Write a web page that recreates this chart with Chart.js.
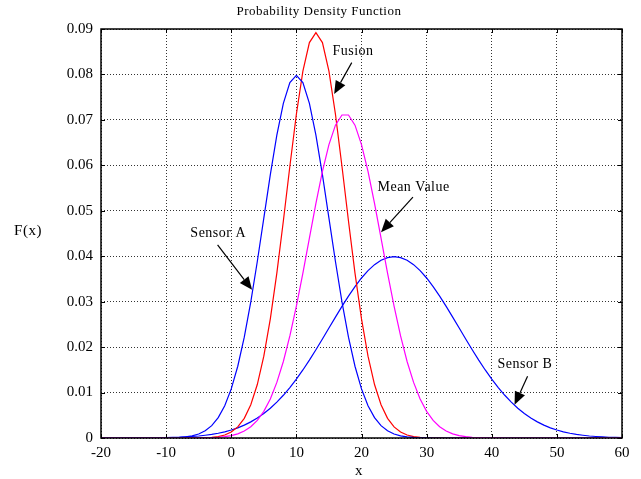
<!DOCTYPE html>
<html>
<head>
<meta charset="utf-8">
<script src="https://cdn.jsdelivr.net/npm/chart.js@4/dist/chart.umd.min.js"></script>
<style>
html,body{margin:0;padding:0;background:#fff;}
#wrap{width:641px;height:479px;}
</style>
</head>
<body>
<div id="wrap"><canvas id="c" width="641" height="479"></canvas></div>
<script>
const xValues = [
-20,-19,-18,-17,-16,-15,-14,-13,-12,-11,
-10,-9,-8,-7,-6,-5,-4,-3,-2,-1,
0,1,2,3,4,5,6,7,8,9,
10,11,12,13,14,15,16,17,18,19,
20,21,22,23,24,25,26,27,28,29,
30,31,32,33,34,35,36,37,38,39,
40,41,42,43,44,45,46,47,48,49,
50,51,52,53,54,55,56,57,58,59,
60];

const sensorA = [
0,0,0,0,0,0,0,0,0,0,
0.00003,0.00006,0.00012,0.00025,0.00048,0.00089,0.00158,0.00272,0.00448,0.00709,
0.01080,0.01579,0.02218,0.02995,0.03884,0.04839,0.05794,0.06664,0.07365,0.07821,
0.07979,0.07821,0.07365,0.06664,0.05794,0.04839,0.03884,0.02995,0.02218,0.01579,
0.01080,0.00709,0.00448,0.00272,0.00158,0.00089,0.00048,0.00025,0.00012,0.00006,
0.00003,0,0,0,0,0,0,0,0,0,
0,0,0,0,0,0,0,0,0,0,
0,0,0,0,0,0,0,0,0,0,
0];

const sensorB = [
0,0,0,0,0.00001,0.00001,0.00002,0.00003,0.00004,0.00006,
0.00009,0.00012,0.00017,0.00024,0.00033,0.00044,0.00060,0.00079,0.00104,0.00136,
0.00175,0.00224,0.00283,0.00355,0.00440,0.00540,0.00656,0.00790,0.00940,0.01109,
0.01295,0.01497,0.01714,0.01942,0.02178,0.02420,0.02661,0.02897,0.03123,0.03332,
0.03521,0.03683,0.03814,0.03910,0.03970,0.03989,0.03970,0.03910,0.03814,0.03683,
0.03521,0.03332,0.03123,0.02897,0.02661,0.02420,0.02178,0.01942,0.01714,0.01497,
0.01295,0.01109,0.00940,0.00790,0.00656,0.00540,0.00440,0.00355,0.00283,0.00224,
0.00175,0.00136,0.00104,0.00079,0.00060,0.00044,0.00033,0.00024,0.00017,0.00012,
0.00009];

const fusion = [
0,0,0,0,0,0,0,0,0,0,
0,0,0,0,0.00001,0.00003,0.00007,0.00015,0.00032,0.00066,
0.00130,0.00244,0.00433,0.00732,0.01177,0.01801,0.02621,0.03627,0.04775,0.05980,
0.07124,0.08072,0.08701,0.08921,0.08701,0.08072,0.07124,0.05980,0.04775,0.03627,
0.02621,0.01801,0.01177,0.00732,0.00433,0.00244,0.00130,0.00066,0.00032,0.00015,
0.00007,0.00003,0.00001,0,0,0,0,0,0,0,
0,0,0,0,0,0,0,0,0,0,
0,0,0,0,0,0,0,0,0,0,
0];

const meanValue = [
0,0,0,0,0,0,0,0,0,0,
0,0,0,0,0.00001,0.00002,0.00004,0.00009,0.00016,0.00030,
0.00053,0.00092,0.00153,0.00247,0.00386,0.00586,0.00860,0.01223,0.01684,0.02246,
0.02901,0.03630,0.04398,0.05161,0.05866,0.06457,0.06884,0.07108,0.07108,0.06884,
0.06457,0.05866,0.05161,0.04398,0.03630,0.02901,0.02246,0.01684,0.01223,0.00860,
0.00586,0.00386,0.00247,0.00153,0.00092,0.00053,0.00030,0.00016,0.00009,0.00004,
0.00002,0.00001,0,0,0,0,0,0,0,0,
0,0,0,0,0,0,0,0,0,0,
0];

const xTicks = [-20,-10,0,10,20,30,40,50,60];
const yTicks = [0,0.01,0.02,0.03,0.04,0.05,0.06,0.07,0.08,0.09];
const chartTitle = 'Probability Density Function';
const xTitle = 'x';
const yTitle = 'F(x)';

const annotations = [
  {text:'Fusion',     tx:18.7, ty:0.0850, ax:18.5, ay:0.0826, bx:15.8, by:0.0757},
  {text:'Sensor A',   tx:-2.0, ty:0.0451, ax:-2.1, ay:0.0425, bx:3.2,  by:0.0326},
  {text:'Mean Value', tx:28.0, ty:0.0552, ax:27.9, ay:0.0530, bx:23.0, by:0.0453},
  {text:'Sensor B',   tx:45.1, ty:0.0163, ax:45.5, ay:0.0136, bx:43.5, by:0.0073}
];

const SERIF = '"Liberation Serif", "Times New Roman", serif';

function pts(arr){ return xValues.map((x,i)=>({x:x, y:arr[i]})); }

const decor = {
  id:'decor',
  afterDraw(chart){
    const ctx = chart.ctx, a = chart.chartArea;
    const xs = chart.scales.x, ys = chart.scales.y;
    ctx.save();
    // frame
    ctx.strokeStyle = '#000';
    ctx.lineWidth = 1.5;
    ctx.strokeRect(a.left, a.top, a.right - a.left, a.bottom - a.top);
    // inward ticks
    ctx.lineWidth = 1;
    ctx.beginPath();
    yTicks.forEach(v=>{
      const y = Math.round(ys.getPixelForValue(v))+0.5;
      ctx.moveTo(a.left, y); ctx.lineTo(a.left+4, y);
      ctx.moveTo(a.right, y); ctx.lineTo(a.right-4, y);
    });
    xTicks.forEach(v=>{
      const x = Math.round(xs.getPixelForValue(v))+0.5;
      ctx.moveTo(x, a.bottom); ctx.lineTo(x, a.bottom-4);
      ctx.moveTo(x, a.top); ctx.lineTo(x, a.top+4);
    });
    ctx.stroke();
    // title
    ctx.fillStyle = '#000';
    ctx.font = '13px ' + SERIF;
    ctx.textAlign = 'center';
    ctx.textBaseline = 'middle';
    try { ctx.letterSpacing = '0.5px'; } catch(e) {}
    ctx.fillText(chartTitle, 319, 12);
    // axis titles
    ctx.font = '15px ' + SERIF;
    ctx.fillText(xTitle, 359, 471);
    ctx.fillText(yTitle, 28, 231);
    // annotations
    ctx.font = '14px ' + SERIF;
    annotations.forEach(an=>{
      ctx.fillStyle = '#000';
      ctx.fillText(an.text, xs.getPixelForValue(an.tx), ys.getPixelForValue(an.ty));
      const x1 = xs.getPixelForValue(an.ax), y1 = ys.getPixelForValue(an.ay);
      const x2 = xs.getPixelForValue(an.bx), y2 = ys.getPixelForValue(an.by);
      const ang = Math.atan2(y2 - y1, x2 - x1);
      const hl = 13, hw = 5.5;
      const bxp = x2 - hl*Math.cos(ang), byp = y2 - hl*Math.sin(ang);
      ctx.strokeStyle = '#000';
      ctx.lineWidth = 1.2;
      ctx.beginPath();
      ctx.moveTo(x1, y1); ctx.lineTo(bxp, byp);
      ctx.stroke();
      ctx.beginPath();
      ctx.moveTo(x2, y2);
      ctx.lineTo(bxp + hw*Math.sin(ang), byp - hw*Math.cos(ang));
      ctx.lineTo(bxp - hw*Math.sin(ang), byp + hw*Math.cos(ang));
      ctx.closePath();
      ctx.fill();
    });
    ctx.restore();
  }
};

const ds = (label, arr, color, order) => ({
  label, data: pts(arr), borderColor: color, backgroundColor: color,
  borderWidth: 1.2, pointRadius: 0, tension: 0, fill: false, order
});

new Chart(document.getElementById('c'), {
  type: 'line',
  data: {
    datasets: [
      ds('Mean Value', meanValue, '#ff00ff', 0),
      ds('Sensor A', sensorA, '#0000ff', 1),
      ds('Fusion', fusion, '#ff0000', 1),
      ds('Sensor B', sensorB, '#0000ff', 1)
    ]
  },
  options: {
    responsive: false,
    animation: false,
    devicePixelRatio: 1,
    layout: { padding: { left: 0, right: 19, top: 29, bottom: 0 } },
    plugins: { legend: { display: false }, tooltip: { enabled: false }, title: { display: false } },
    scales: {
      x: {
        type: 'linear', min: -20, max: 60,
        afterFit(s){ s.height = 41; },
        afterBuildTicks(s){ s.ticks = xTicks.map(v=>({value:v})); },
        border: { display: false, dash: [1, 2] },
        grid: { color: '#333', lineWidth: 1, drawTicks: false, tickLength: 0 },
        ticks: { color: '#000', padding: 6, font: { family: SERIF, size: 15 }, maxRotation: 0,
                 callback: v => String(v) }
      },
      y: {
        type: 'linear', min: 0, max: 0.09,
        afterFit(s){ s.width = 101; },
        afterBuildTicks(s){ s.ticks = yTicks.map(v=>({value:v})); },
        border: { display: false, dash: [1, 2] },
        grid: { color: '#333', lineWidth: 1, drawTicks: false, tickLength: 0 },
        ticks: { color: '#000', padding: 8, font: { family: SERIF, size: 15 },
                 callback: v => String(Math.round(v*100)/100) }
      }
    }
  },
  plugins: [decor]
});
</script>
</body>
</html>
